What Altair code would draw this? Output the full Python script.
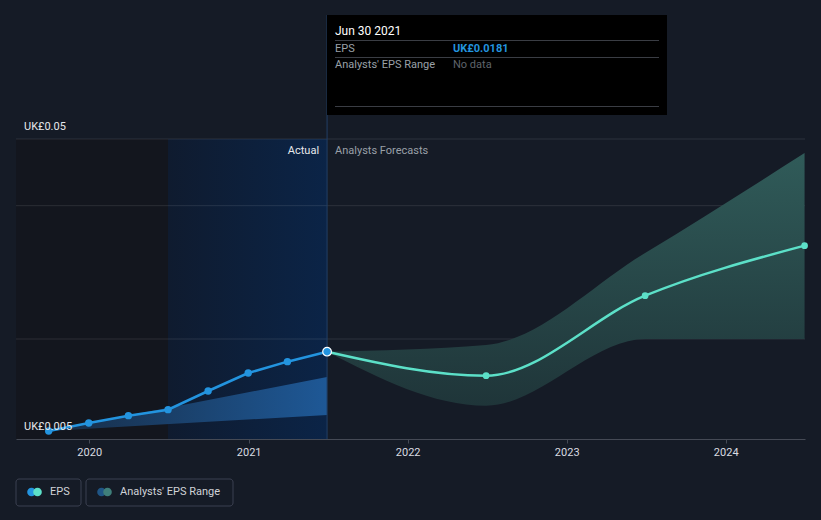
import altair as alt
import pandas as pd

# ---- data ----
past_dates = ["2019-09-30", "2019-12-31", "2020-03-31", "2020-06-30",
              "2020-09-30", "2020-12-31", "2021-03-31", "2021-06-30"]
past_eps = [0.0062, 0.0074, 0.0085, 0.0094, 0.0122, 0.0149, 0.0166, 0.0181]

past_range_dates = ["2019-09-30", "2021-06-30"]
past_range_high = [0.0062, 0.0143]
past_range_low = [0.0062, 0.0086]

fc_dates = ["2021-06-30", "2022-06-30", "2023-06-30", "2024-06-30"]
fc_eps = [0.0181, 0.0145, 0.0265, 0.0340]
fc_high = [0.0181, 0.0191, 0.0329, 0.0479]
fc_low = [0.0181, 0.0100, 0.0200, 0.0200]

grid_values = [0.02, 0.04, 0.05]
ylabel_values = [0.05, 0.005]
ylabel_texts = ["UK£0.05", "UK£0.005"]
year_ticks = [2020, 2021, 2022, 2023, 2024]

band_dark = ["2019-07-17", "2020-06-30"]
band_actual = ["2020-06-30", "2021-06-30"]
y_top, y_bottom = 0.05, 0.005
hover_date = "2021-06-30"

FONT = "Roboto"
BG = "#151b26"

past_df = pd.DataFrame({"date": pd.to_datetime(past_dates), "v": past_eps})
past_rng = pd.DataFrame({"date": pd.to_datetime(past_range_dates),
                         "v": past_range_high, "v2": past_range_low})
fc_df = pd.DataFrame({"date": pd.to_datetime(fc_dates), "v": fc_eps})
fc_rng = pd.DataFrame({"date": pd.to_datetime(fc_dates), "v": fc_high, "v2": fc_low})
grid_df = pd.DataFrame({"v": grid_values})
ylab_df = pd.DataFrame({"v": ylabel_values, "t": ylabel_texts})
dark_df = pd.DataFrame({"date": [pd.Timestamp(band_dark[0])], "date2": [pd.Timestamp(band_dark[1])],
                        "v": [y_top], "v2": [y_bottom]})
act_df = pd.DataFrame({"date": [pd.Timestamp(band_actual[0])], "date2": [pd.Timestamp(band_actual[1])],
                       "v": [y_top], "v2": [y_bottom]})
hover_df = pd.DataFrame({"date": [pd.Timestamp(hover_date)], "v": [past_eps[-1]]})

xscale = alt.Scale(domain=[alt.DateTime(year=2019, month=7, date=17),
                           alt.DateTime(year=2024, month=7, date=1)])
yscale = alt.Scale(domain=[y_bottom, y_top], zero=False, nice=False)

x_axis = alt.Axis(values=[alt.DateTime(year=y, month=1, date=1) for y in year_ticks],
                  format="%Y", title=None, grid=False,
                  domainColor="#454a55", tickColor="#454a55", tickSize=4,
                  labelColor="#d9dce1", labelFont=FONT, labelFontSize=11,
                  labelPadding=3)

X = alt.X("date:T", scale=xscale, axis=x_axis)
Y = alt.Y("v:Q", scale=yscale, axis=None)

dark_band = alt.Chart(dark_df).mark_rect(color="#13161e").encode(
    x=X, x2="date2:T", y=Y, y2="v2:Q")

act_band = alt.Chart(act_df).mark_rect(
    color=alt.Gradient(gradient="linear", x1=0, x2=1, y1=0, y2=0,
                       stops=[alt.GradientStop(color="#0f1b2f", offset=0),
                              alt.GradientStop(color="#0b2447", offset=1)])
).encode(x=X, x2="date2:T", y=Y, y2="v2:Q")

grid = alt.Chart(grid_df).mark_rule(color="#ffffff", opacity=0.1, strokeWidth=1).encode(y=Y)

past_area = alt.Chart(past_rng).mark_area(
    color=alt.Gradient(gradient="linear", x1=0, x2=1, y1=0, y2=0,
                       stops=[alt.GradientStop(color="#172c45", offset=0),
                              alt.GradientStop(color="#1e5896", offset=1)])
).encode(x=X, y=Y, y2="v2:Q")

fc_area = alt.Chart(fc_rng).mark_area(
    interpolate="monotone",
    color=alt.Gradient(gradient="linear", x1=0, x2=0, y1=0, y2=1,
                       stops=[alt.GradientStop(color="#305b59", offset=0),
                              alt.GradientStop(color="#1f3539", offset=1)])
).encode(x=X, y=Y, y2="v2:Q")

hover_rule = alt.Chart(hover_df).mark_rule(color="#223f66", strokeWidth=1).encode(
    x=X, y=alt.value(-124), y2=alt.value(300))

past_line = alt.Chart(past_df).mark_line(color="#2394df", strokeWidth=2.5).encode(x=X, y=Y)
past_pts = alt.Chart(past_df).mark_circle(color="#2394df", size=55, opacity=1).encode(x=X, y=Y)

fc_line = alt.Chart(fc_df).mark_line(color="#5ce0c8", strokeWidth=2.5,
                                     interpolate="monotone").encode(x=X, y=Y)
fc_pts = alt.Chart(fc_df.iloc[1:]).mark_circle(color="#5ce0c8", size=45, opacity=1).encode(x=X, y=Y)

hover_pt = alt.Chart(hover_df).mark_point(filled=True, fill="#2394df", stroke="#ffffff",
                                          strokeWidth=1.2, size=75, opacity=1).encode(x=X, y=Y)

lbl_actual = alt.Chart(hover_df).mark_text(align="right", baseline="middle", font=FONT,
                                           fontSize=11, color="#e6e8eb", dx=-8).encode(
    x=X, y=alt.value(12), text=alt.value("Actual"))
lbl_fc = alt.Chart(hover_df).mark_text(align="left", baseline="middle", font=FONT,
                                       fontSize=11, color="#9aa0a8", dx=8).encode(
    x=X, y=alt.value(12), text=alt.value("Analysts Forecasts"))

ylabels = alt.Chart(ylab_df).mark_text(align="left", baseline="middle", font=FONT,
                                       fontSize=11, color="#e6e8eb", dy=-12).encode(
    x=alt.value(8), y=Y, text="t:N")

# tooltip box
tip_rect = alt.Chart(hover_df).mark_rect(color="#000000").encode(
    x=alt.value(311), x2=alt.value(651), y=alt.value(-124), y2=alt.value(-24))
sep_df = pd.DataFrame({"yy": [-98.5, -81.5, -32.5]})
tip_seps = alt.Chart(sep_df).mark_rule(color="#3a3d44", strokeWidth=1).encode(
    x=alt.value(319), x2=alt.value(643), y=alt.Y("yy:Q", scale=None, axis=None))


def tip_text(txt, x, y, color, size=11, weight="normal"):
    return alt.Chart(hover_df).mark_text(align="left", baseline="middle", font=FONT,
                                         fontSize=size, color=color, fontWeight=weight).encode(
        x=alt.value(x), y=alt.value(y), text=alt.value(txt))


tip_texts = [
    tip_text("Jun 30 2021", 319, -108, "#ffffff", 12),
    tip_text("EPS", 319, -90.5, "#9aa0a8"),
    tip_text("UK£0.0181", 437, -90.5, "#2394df", 11, "bold"),
    tip_text("Analysts' EPS Range", 319, -74, "#9aa0a8"),
    tip_text("No data", 437, -74, "#5f646c"),
]

# legend
leg_box_df = pd.DataFrame({"x": [0, 70], "x2": [65, 217]})
leg_boxes = alt.Chart(leg_box_df).mark_rect(fillOpacity=0, stroke="#3b4050", strokeWidth=1,
                                            cornerRadius=3).encode(
    x=alt.X("x:Q", scale=None, axis=None), x2="x2:Q",
    y=alt.value(340), y2=alt.value(367))
leg_c_df = pd.DataFrame({"x": [15.5, 21.5, 85.5, 91.5],
                         "c": ["#2394df", "#5ce0c8", "#1f5585", "#3f7f7a"],
                         "k": [0, 1, 2, 3]})
leg_circles = alt.Chart(leg_c_df).mark_circle(size=75, opacity=1).encode(
    x=alt.X("x:Q", scale=None, axis=None), y=alt.value(353),
    color=alt.Color("c:N", scale=None, legend=None), order="k:O")
leg_t_df = pd.DataFrame({"x": [34, 104], "t": ["EPS", "Analysts' EPS Range"]})
leg_texts = alt.Chart(leg_t_df).mark_text(align="left", baseline="middle", font=FONT,
                                          fontSize=11, color="#d0d3d8").encode(
    x=alt.X("x:Q", scale=None, axis=None), y=alt.value(353), text="t:N")

chart = alt.layer(
    dark_band, act_band, grid, past_area, fc_area, hover_rule,
    past_line, past_pts, fc_line, fc_pts, hover_pt,
    lbl_actual, lbl_fc, ylabels,
    tip_rect, tip_seps, *tip_texts,
    leg_boxes, leg_circles, leg_texts,
).properties(
    width=789, height=300,
    autosize=alt.AutoSizeParams(type="none"),
    padding={"left": 16, "top": 139, "right": 16, "bottom": 81},
    background=BG,
).configure_view(strokeWidth=0)

chart.save("out.html", embed_options={"renderer": "svg", "actions": False})
